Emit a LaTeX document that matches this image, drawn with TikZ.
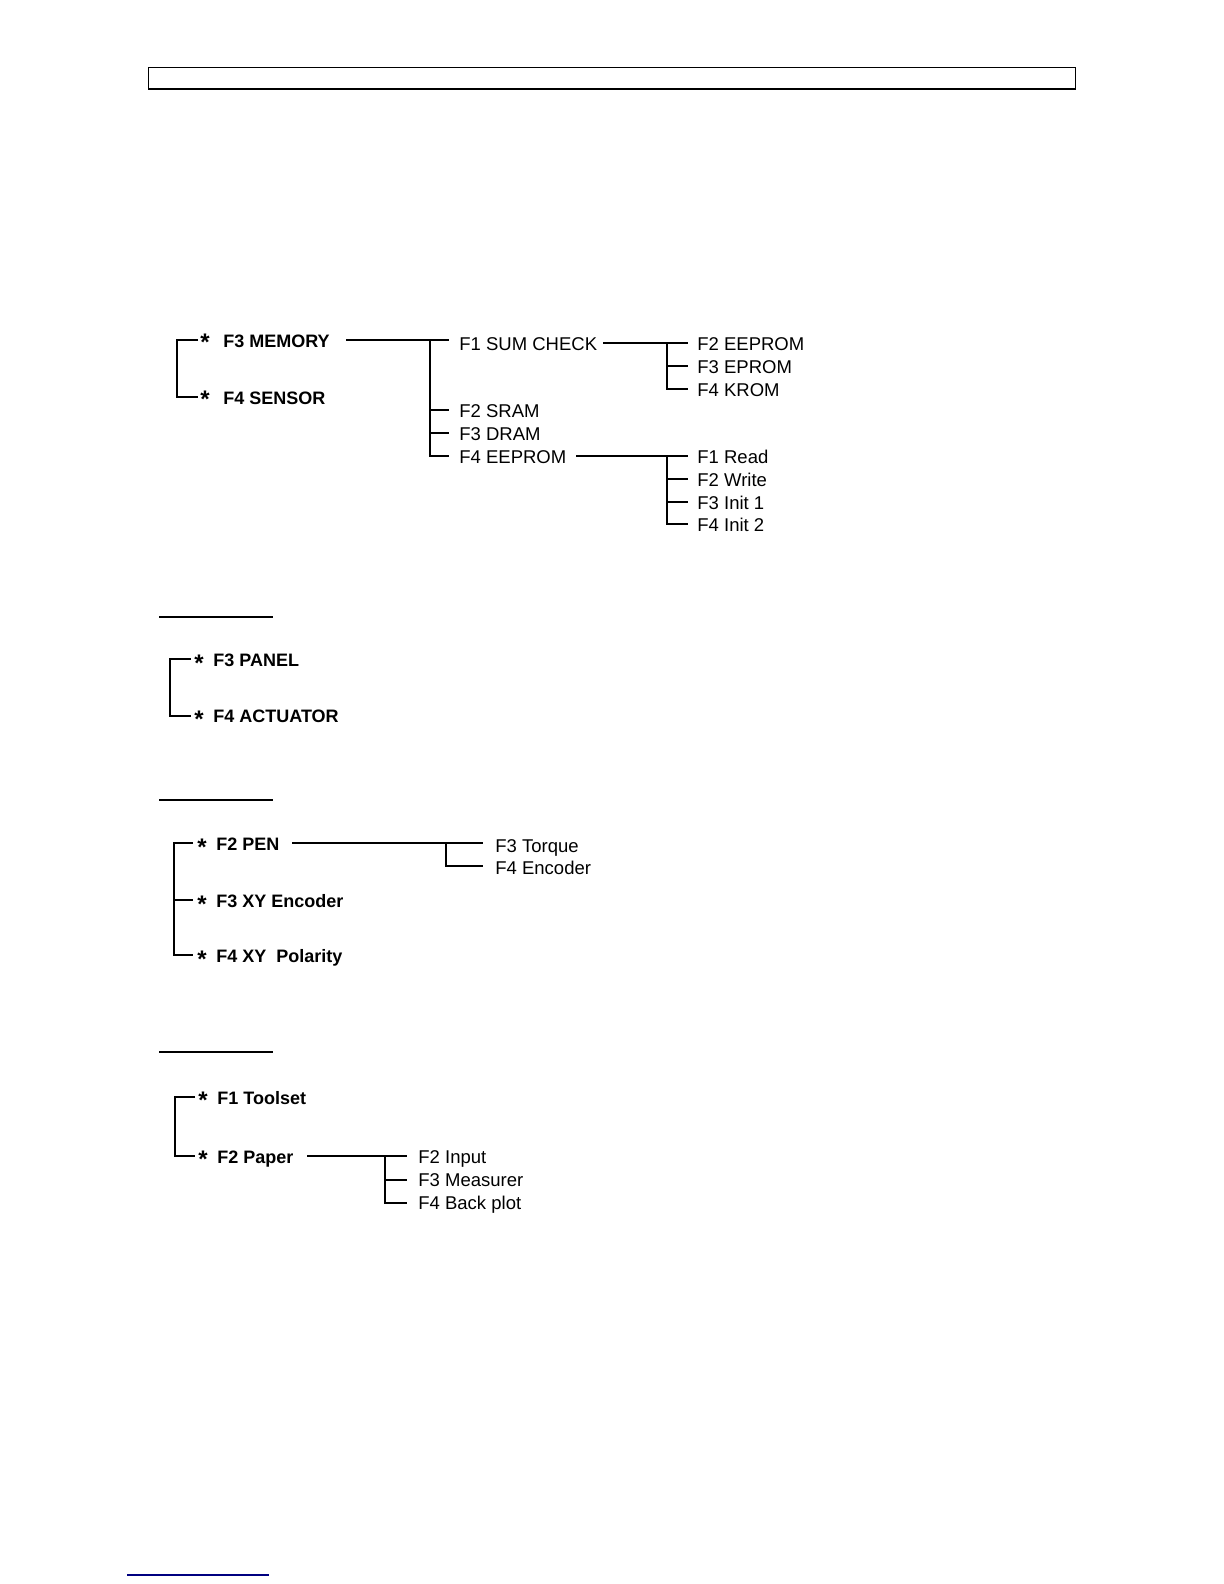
\documentclass[tikz,border=0pt]{standalone}
\usepackage{fontspec}
\setmainfont{Liberation Sans}
\usetikzlibrary{calc}
\definecolor{navy}{RGB}{0,0,128}
\begin{document}
\begin{tikzpicture}[x=0.5pt,y=-0.5pt,
  lab/.style={anchor=base west, inner sep=0pt, font=\fontsize{9.25}{11}\selectfont},
  blab/.style={anchor=base west, inner sep=0pt, font=\bfseries\fontsize{9}{11}\selectfont},
  ast/.style={anchor=base, inner sep=0pt, font=\bfseries\fontsize{12}{12}\selectfont},
  wire/.style={line width=0.6pt, black},
  rule/.style={line width=0.8pt, black}]
\useasboundingbox (0,0) rectangle (1224,1584);

% header box
\draw[line width=0.7pt] (148.5,67.7) rectangle (1075.5,88.9);

% ---------------- Section 1 ----------------
\node[ast]  (s1a) at (205,350) {*};
\node[blab] (n1a) at (223,347) {F3 MEMORY};
\node[ast]  (s1b) at (205,407) {*};
\node[blab] (n1b) at (223,404) {F4 SENSOR};
\coordinate (b1a) at (198,340);
\coordinate (b1b) at (198,397);
\draw[wire] (b1a) -- (177,340) |- (b1b);

\node[lab] (c1a) at (459,350) {F1 SUM CHECK};
\node[lab] (c1b) at (459,417) {F2 SRAM};
\node[lab] (c1c) at (459,440) {F3 DRAM};
\node[lab] (c1d) at (459,463) {F4 EEPROM};
\coordinate (j1)  at (430,340);
\coordinate (m1s) at (346,340);
\coordinate (m1e) at (449,340);
\coordinate (t1b) at (449,410);
\coordinate (t1c) at (449,433);
\coordinate (t1d) at (449,456);
\draw[wire] (m1s) -- (m1e);
\draw[wire] (j1) |- (t1d);
\draw[wire] (j1 |- t1b) -- (t1b);
\draw[wire] (j1 |- t1c) -- (t1c);

\node[lab] (d1a) at (697,350) {F2 EEPROM};
\node[lab] (d1b) at (697,373) {F3 EPROM};
\node[lab] (d1c) at (697,396) {F4 KROM};
\coordinate (k1s) at (603,343);
\coordinate (k1e) at (688,343);
\coordinate (k1j) at (667,343);
\coordinate (u1b) at (688,366);
\coordinate (u1c) at (688,389);
\draw[wire] (k1s) -- (k1e);
\draw[wire] (k1j) |- (u1c);
\draw[wire] (k1j |- u1b) -- (u1b);

\node[lab] (e1a) at (697,463) {F1 Read};
\node[lab] (e1b) at (697,486) {F2 Write};
\node[lab] (e1c) at (697,509) {F3 Init 1};
\node[lab] (e1d) at (697,531) {F4 Init 2};
\coordinate (g1s) at (576,456);
\coordinate (g1e) at (688,456);
\coordinate (g1j) at (667,456);
\coordinate (v1b) at (688,479);
\coordinate (v1c) at (688,502);
\coordinate (v1d) at (688,524);
\draw[wire] (g1s) -- (g1e);
\draw[wire] (g1j) |- (v1d);
\draw[wire] (g1j |- v1b) -- (v1b);
\draw[wire] (g1j |- v1c) -- (v1c);

% ---------------- Section 2 ----------------
\coordinate (r2s) at (159,617);
\coordinate (r2e) at (273,617);
\draw[rule] (r2s) -- (r2e);
\node[ast]  (s2a) at (199,671) {*};
\node[blab] (n2a) at (213,666) {F3 PANEL};
\node[ast]  (s2b) at (199,727) {*};
\node[blab] (n2b) at (213,722) {F4 ACTUATOR};
\coordinate (b2a) at (191,659);
\coordinate (b2b) at (191,716);
\draw[wire] (b2a) -- (170,659) |- (b2b);

% ---------------- Section 3 ----------------
\coordinate (r3s) at (159,800);
\coordinate (r3e) at (273,800);
\draw[rule] (r3s) -- (r3e);
\node[ast]  (s3a) at (202,855) {*};
\node[blab] (n3a) at (216,850) {F2 PEN};
\node[ast]  (s3b) at (202,912) {*};
\node[blab] (n3b) at (216,907) {F3 XY Encoder};
\node[ast]  (s3c) at (202,967) {*};
\node[blab] (n3c) at (216,962) {F4 XY\ \ Polarity};
\coordinate (b3a) at (193,843);
\coordinate (b3b) at (193,900);
\coordinate (b3c) at (193,955);
\draw[wire] (b3a) -- (174,843) |- (b3c);
\draw[wire] (174,900) -- (b3b);

\node[lab] (c3a) at (495,852) {F3 Torque};
\node[lab] (c3b) at (495,874) {F4 Encoder};
\coordinate (k3s) at (292,843);
\coordinate (k3e) at (483,843);
\coordinate (k3j) at (446,843);
\coordinate (u3b) at (483,866);
\draw[wire] (k3s) -- (k3e);
\draw[wire] (k3j) |- (u3b);

% ---------------- Section 4 ----------------
\coordinate (r4s) at (159,1052);
\coordinate (r4e) at (273,1052);
\draw[rule] (r4s) -- (r4e);
\node[ast]  (s4a) at (203,1108) {*};
\node[blab] (n4a) at (217,1104) {F1 Toolset};
\node[ast]  (s4b) at (203,1167) {*};
\node[blab] (n4b) at (217,1163) {F2 Paper};
\coordinate (b4a) at (195,1097);
\coordinate (b4b) at (195,1156);
\draw[wire] (b4a) -- (175,1097) |- (b4b);

\node[lab] (c4a) at (418,1163) {F2 Input};
\node[lab] (c4b) at (418,1186) {F3 Measurer};
\node[lab] (c4c) at (418,1209) {F4 Back plot};
\coordinate (k4s) at (307,1156);
\coordinate (k4e) at (407,1156);
\coordinate (k4j) at (385,1156);
\coordinate (u4b) at (407,1180);
\coordinate (u4c) at (407,1203);
\draw[wire] (k4s) -- (k4e);
\draw[wire] (k4j) |- (u4c);
\draw[wire] (k4j |- u4b) -- (u4b);

% footer rule
\coordinate (fs) at (127,1575);
\coordinate (fe) at (269,1575);
\draw[line width=0.8pt, navy] (fs) -- (fe);
\end{tikzpicture}
\end{document}
